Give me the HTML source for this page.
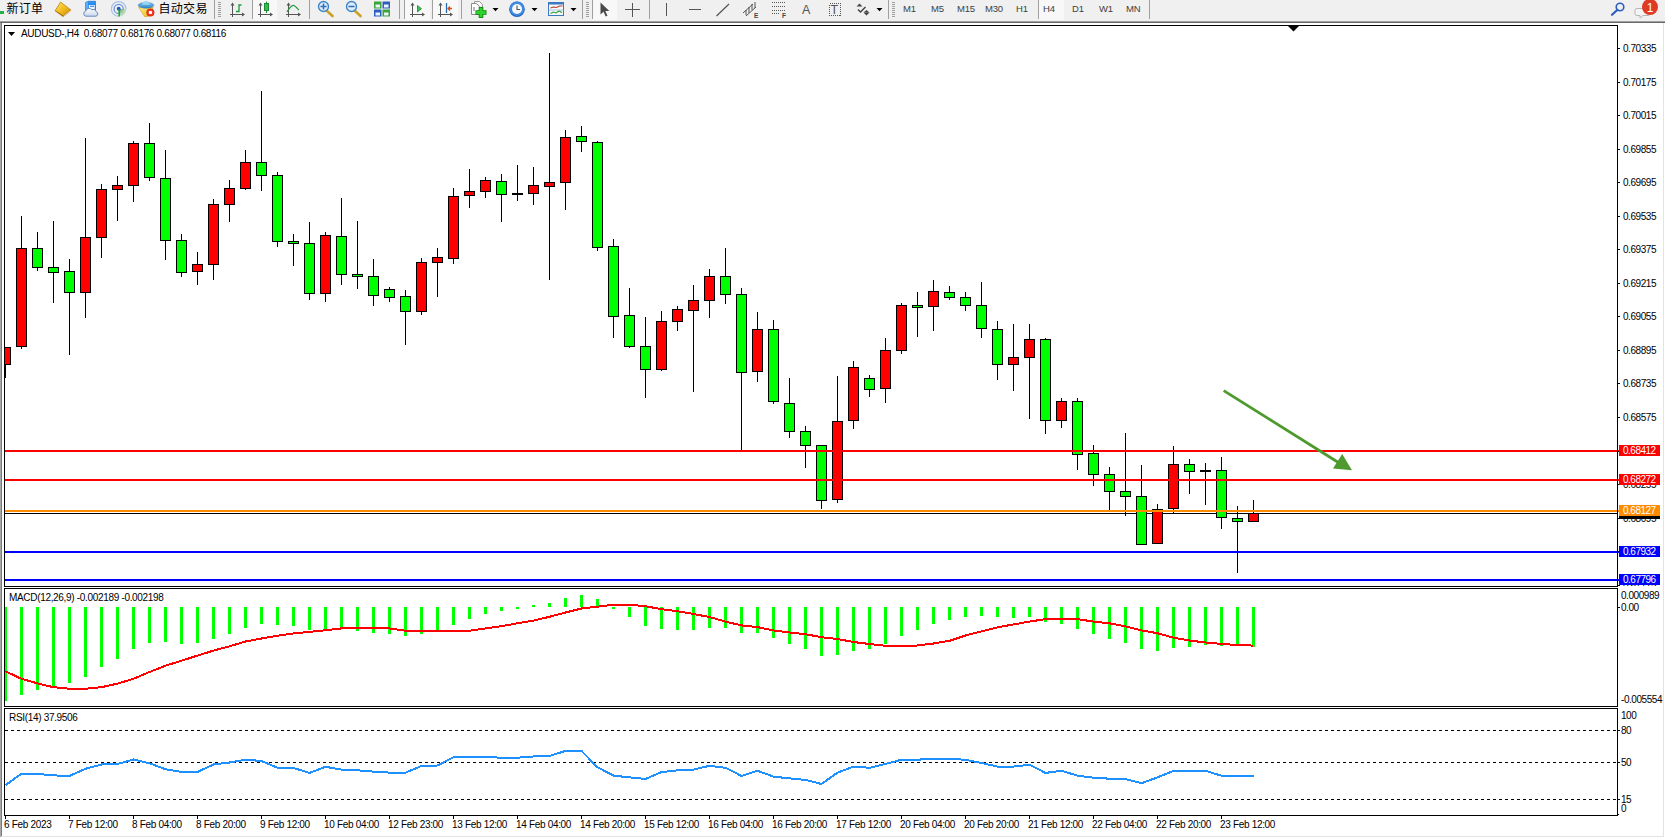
<!DOCTYPE html>
<html><head><meta charset="utf-8"><title>AUDUSD-,H4</title>
<style>
html,body{margin:0;padding:0}
body{width:1665px;height:838px;overflow:hidden;background:#fff;position:relative;font-family:"Liberation Sans","Noto Sans CJK SC",sans-serif;color:#000}
#tb{position:absolute;left:0;top:0;width:1665px;height:21px;background:#f0f0f0;overflow:hidden}
svg.ch{position:absolute;left:0;top:0}
.t{position:absolute;font-size:10px;line-height:13px;white-space:pre;letter-spacing:-0.32px}
.n{letter-spacing:-0.45px}
.bx{position:absolute;left:1619px;width:41px;height:11px;color:#fff;font-size:10px;line-height:11px;white-space:pre;overflow:hidden;letter-spacing:-0.5px}
.bx span{display:inline-block;margin-left:4px}
.tri{display:inline-block;width:0;height:0;border-left:4px solid transparent;border-right:4px solid transparent;border-top:4px solid #000;margin:0 5px 1px 1px}
#tb .x{position:absolute;white-space:pre}
#tb .cj{top:1px;font-size:12px;line-height:16px;color:#000;letter-spacing:0.3px}
#tb .pd{top:2px;font-size:9.5px;line-height:13px;color:#404040;letter-spacing:-0.2px}
#tb .hl{position:absolute;top:0;height:20px;background:#f8f8f8}

</style></head><body>
<div id="tb"><div class="hl" style="left:253px;width:24px"></div>
<div class="hl" style="left:405px;width:25px"></div>
<div class="hl" style="left:433px;width:25px"></div>
<div class="hl" style="left:593px;width:24px"></div>
<div class="hl" style="left:1039px;width:25px"></div>
<svg width="1665" height="21" viewBox="0 0 1665 21" style="position:absolute;left:0;top:0">
<g fill="none" stroke="#a0a0a0" stroke-width="1" shape-rendering="crispEdges">
<path d="M214.5 0V19M252.5 0V19M309.5 0V19M399.5 0V19M404.5 0V19M432.5 0V19M461.5 0V19M582.5 0V19M592.5 0V19M649.5 0V19M888.5 0V19M1038.5 0V19M1149.5 0V19"/>
<path d="M218 2.5h3M218 4.5h3M218 6.5h3M218 8.5h3M218 10.5h3M218 12.5h3M218 14.5h3M218 16.5h3"/>
<path d="M586 2.5h3M586 4.5h3M586 6.5h3M586 8.5h3M586 10.5h3M586 12.5h3M586 14.5h3M586 16.5h3"/>
<path d="M892 2.5h3M892 4.5h3M892 6.5h3M892 8.5h3M892 10.5h3M892 12.5h3M892 14.5h3M892 16.5h3"/>
</g>
<!-- new order remnant -->
<rect x="0" y="11" width="4" height="3" fill="#22b14c"/>
<!-- book -->
<defs>
<linearGradient id="gb" x1="0" y1="0" x2="1" y2="1"><stop offset="0" stop-color="#ffe36a"/><stop offset=".5" stop-color="#f2bd1d"/><stop offset="1" stop-color="#c98a10"/></linearGradient>
<linearGradient id="gs" x1="0" y1="0" x2="0" y2="1"><stop offset="0" stop-color="#2f9bff"/><stop offset="1" stop-color="#1763c9"/></linearGradient>
<linearGradient id="gc" x1="0" y1="0" x2="0" y2="1"><stop offset="0" stop-color="#ffffff"/><stop offset="1" stop-color="#c9d6ea"/></linearGradient>
<radialGradient id="gg" gradientUnits="userSpaceOnUse" cx="118.700" cy="8.900" r="8"><stop offset="0" stop-color="#2d8f3a" stop-opacity=".9"/><stop offset="1" stop-color="#8fce96" stop-opacity=".35"/></radialGradient>
<linearGradient id="gh" x1="0" y1="0" x2="0" y2="1"><stop offset="0" stop-color="#7cc3ee"/><stop offset="1" stop-color="#2f86c9"/></linearGradient>
<linearGradient id="gy" x1="0" y1="0" x2="1" y2="1"><stop offset="0" stop-color="#fff08a"/><stop offset="1" stop-color="#e7b416"/></linearGradient>
</defs>
<path d="M55.200 11.200L63.200 17L71 10.800L70.800 9.500L63 15L55.500 10z" fill="#9c6408"/>
<path d="M60.600 2L70.800 9.900L63.200 15.800L55.200 10.600z" fill="url(#gb)" stroke="#b47a0c" stroke-width=".7"/>
<path d="M63.400 16.300L70.900 10.400" stroke="#f7e7b0" stroke-width=".8"/>
<!-- server/cloud -->
<path d="M85.500 2.500l2.500-1.200h7.500v9h-10z" fill="url(#gs)" stroke="#1a5bb8" stroke-width=".6"/>
<path d="M85.500 2.500l2.500-1.200v9.500l-2.500 .5z" fill="#55b0ff"/>
<rect x="88.800" y="5" width="6" height="4.500" fill="#e9f2ff"/>
<rect x="90" y="5.800" width="4" height="1" fill="#2a7be0"/>
<path d="M86 16.200a2.600 2.600 0 0 1-.3-5.100a3.400 3.400 0 0 1 6.200-1.200a2.800 2.800 0 0 1 4.200 1.800a2.300 2.300 0 0 1-.3 4.500z" fill="url(#gc)" stroke="#5d7fb8" stroke-width=".9"/>
<!-- signal -->
<path d="M118.700 8.900V16.800A7.900 7.900 0 0 0 126.600 8.900z" fill="url(#gg)"/>
<circle cx="118.700" cy="8.900" r="7.300" fill="none" stroke="#a9c0ea" stroke-width="1.200" stroke-dasharray="34.400 11.500" transform="rotate(90 118.700 8.900)"/>
<circle cx="118.700" cy="8.900" r="4.600" fill="none" stroke="#6d93de" stroke-width="1.300" stroke-dasharray="21.700 7.200" transform="rotate(90 118.700 8.900)"/>
<circle cx="118.700" cy="8.700" r="1.900" fill="#1f55c4"/>
<path d="M119.200 9.500V16.600" stroke="#21a038" stroke-width="1.500"/>
<!-- autotrading -->
<path d="M138.600 7.200h14.600l-5.200 9.300h-3.500z" fill="url(#gy)" stroke="#d1a017" stroke-width=".6"/>
<ellipse cx="146" cy="5.300" rx="7.800" ry="2.900" fill="url(#gh)" stroke="#2c78b8" stroke-width=".5"/>
<path d="M142.300 4.800a3.700 3.900 0 0 1 7.400 0z" fill="#9bd3f5"/>
<circle cx="150.400" cy="12.500" r="4" fill="#d8220f"/>
<circle cx="150.400" cy="12.500" r="3.300" fill="#ef3b22"/>
<rect x="148.900" y="11" width="3" height="3" fill="#fff"/>
<!-- bar chart icon -->
<g stroke="#555" stroke-width="1" fill="none" shape-rendering="crispEdges">
<path d="M232.500 4V17M230 14.500H244M260.500 4V17M258 14.500H272M288.500 4V17M286 14.500H300M412.500 4V17M410 14.500H424M440.500 4V17M438 14.500H452"/>
</g>
<g fill="#555">
<path d="M232.500 2.500l-2 3h4zM260.500 2.500l-2 3h4zM288.500 2.500l-2 3h4zM412.500 2.500l-2 3h4zM440.500 2.500l-2 3h4z"/>
<path d="M245 14.500l-3-2v4zM273 14.500l-3-2v4zM301 14.500l-3-2v4zM425 14.500l-3-2v4zM453 14.500l-3-2v4z"/>
</g>
<path d="M236 11.500h3V5h2.500" fill="none" stroke="#1d9a3c" stroke-width="1.300"/>
<rect x="264.500" y="3.500" width="4" height="7" fill="#2fbf4f" stroke="#1d8a36"/>
<path d="M266.500 1.500V3.500M266.500 10.500V13" stroke="#1d8a36" stroke-width="1"/>
<path d="M287 12c3-5 5-7.500 7-6.500s3 3 5 4.500" fill="none" stroke="#1d9a3c" stroke-width="1.300"/>
<path d="M417.500 5.500l4 3.200l-4 3.300z" fill="#3cc25a" stroke="#1d8a36" stroke-width=".8"/>
<path d="M446.500 3V13" stroke="#2a6fb5" stroke-width="1.300"/>
<path d="M452 8.500H448M450 6.500l-2 2l2 2" fill="none" stroke="#d2501e" stroke-width="1.300"/>
<!-- zoom in/out -->
<g>
<path d="M326.500 10.500l6 5.500" stroke="#c9a227" stroke-width="2.600" stroke-linecap="round"/>
<circle cx="323.500" cy="6.500" r="5" fill="#dcebfa" stroke="#3d85c6" stroke-width="1.400"/>
<path d="M320.500 6.500h6M323.500 3.500v6" stroke="#2f6fb3" stroke-width="1.500"/>
<path d="M354.500 10.500l6 5.500" stroke="#c9a227" stroke-width="2.600" stroke-linecap="round"/>
<circle cx="351.500" cy="6.500" r="5" fill="#dcebfa" stroke="#3d85c6" stroke-width="1.400"/>
<path d="M348.500 6.500h6" stroke="#2f6fb3" stroke-width="1.500"/>
</g>
<!-- grid windows -->
<rect x="374" y="1.500" width="7.500" height="7" fill="#3aa63a"/><rect x="382.500" y="1.500" width="7.500" height="7" fill="#2c5fc0"/>
<rect x="374" y="9.500" width="7.500" height="7" fill="#2c5fc0"/><rect x="382.500" y="9.500" width="7.500" height="7" fill="#3aa63a"/>
<g fill="#eef3fb"><rect x="375.500" y="4.500" width="4.500" height="3"/><rect x="384" y="4.500" width="4.500" height="3"/><rect x="375.500" y="12.500" width="4.500" height="3"/><rect x="384" y="12.500" width="4.500" height="3"/></g>
<!-- new indicator -->
<path d="M474.500 1.500h5l3 3v9h-8z" fill="#fafafa" stroke="#9a9a9a" stroke-width="1"/>
<path d="M471.500 3.500h5l3 3v8h-8z" fill="#fdfdfd" stroke="#8c8c8c" stroke-width="1"/>
<path d="M474 7v4" stroke="#777" stroke-width="1"/>
<path d="M481 7v11M475.500 12.500h11" stroke="#0b7d0b" stroke-width="4.600"/>
<path d="M481 7.800v9.400M476.300 12.500h9.400" stroke="#2bd32b" stroke-width="3"/>
<!-- clock -->
<circle cx="517" cy="9.300" r="7.800" fill="#1d5fbf"/>
<circle cx="517" cy="8.700" r="7.300" fill="#3f8ae0"/>
<circle cx="517" cy="9" r="5" fill="#f4f7fb"/>
<path d="M517 5.500V9.500H520" fill="none" stroke="#555" stroke-width="1.100"/>
<!-- template -->
<rect x="548.500" y="2.500" width="15" height="13" fill="#f5f8fc" stroke="#3b78c4" stroke-width="1"/>
<rect x="548" y="2" width="16" height="2.500" fill="#3b78c4"/>
<path d="M550.500 8l3-1l3 .5l3-1.500l3 0" fill="none" stroke="#c0392b" stroke-width="1.100"/>
<path d="M550.500 13.500l3-1.500l2.500 1l3-2l3 1.500" fill="none" stroke="#27a127" stroke-width="1.100"/>
<path d="M549 10h14" stroke="#9bb8dd" stroke-width=".8"/>
<!-- dropdown arrows -->
<g fill="#000"><path d="M492.500 8h6l-3 3.200zM531.500 8h6l-3 3.200zM570.500 8h6l-3 3.200zM876.500 8h6l-3 3.200z"/></g>
<!-- cursor -->
<path d="M600.500 2.500v12l3-2.800l2.200 4.800l1.800-.8l-2.200-4.700h4z" fill="#4a4a4a"/>
<!-- crosshair -->
<path d="M632.500 2.500v14M625 9.500h15" stroke="#555" stroke-width="1" shape-rendering="crispEdges"/>
<!-- vline hline trend -->
<path d="M666.500 3v13M689 9.500h12" stroke="#555" stroke-width="1.200" shape-rendering="crispEdges"/>
<path d="M716.500 16L729 4" stroke="#555" stroke-width="1.200"/>
<!-- channel -->
<path d="M743 13l10-9M746 16l10-9M746 10v5M749 7v6M752 4v6M755 2v6" stroke="#555" stroke-width="1" fill="none"/>
<!-- fibo -->
<path d="M772 2.500h13M772 6.500h13M772 10.500h13M772 13.500h8" stroke="#555" stroke-width="1" stroke-dasharray="1 1" shape-rendering="crispEdges"/>
<!-- T box -->
<rect x="829.500" y="3.500" width="11" height="12" fill="none" stroke="#555" stroke-width="1" stroke-dasharray="1 1" shape-rendering="crispEdges"/>
<!-- arrows icon -->
<path d="M859.500 3.500l3 3h-6zM866.500 15.500l-3-3h6z" fill="#444"/>
<path d="M858 9.500l2.500 2.500l5-5" fill="none" stroke="#444" stroke-width="1.500"/>
<path d="M866.500 10l3 2.500h-6z" fill="#444"/>
<!-- search -->
<circle cx="1620" cy="7" r="3.800" fill="none" stroke="#2a5fbf" stroke-width="1.600"/>
<path d="M1617.500 9.800l-5.500 5" stroke="#2a5fbf" stroke-width="2.200" stroke-linecap="round"/>
<!-- chat -->
<path d="M1637 8.500h11a2 2 0 0 1 2 2v3a2 2 0 0 1-2 2h-5l-3 2.500v-2.500h-3a2 2 0 0 1-2-2v-3a2 2 0 0 1 2-2z" fill="#f4f4f4" stroke="#b5b5b5" stroke-width="1"/>
<circle cx="1650" cy="7" r="8" fill="#e03a24"/>
<text x="1650" y="11.500" text-anchor="middle" font-family="Liberation Sans, sans-serif" font-size="12" fill="#fff">1</text>
<text x="1306" y="17.600" font-family="Liberation Sans, sans-serif" font-size="6.500" font-weight="bold" fill="#444" transform="translate(-552 0)">E</text>
<text x="1334" y="17.600" font-family="Liberation Sans, sans-serif" font-size="6.500" font-weight="bold" fill="#444" transform="translate(-552 0)">F</text>
<text x="802" y="14" font-family="Liberation Sans, sans-serif" font-size="12.500" fill="#555">A</text>
<text x="830.500" y="14" font-family="Liberation Sans, sans-serif" font-size="12.500" fill="#555">T</text>
</svg>
<span class="x cj" style="left:6.500px">新订单</span>
<span class="x cj" style="left:158.500px">自动交易</span>
<span class="x pd" style="left:903px">M1</span>
<span class="x pd" style="left:931px">M5</span>
<span class="x pd" style="left:957px">M15</span>
<span class="x pd" style="left:985px">M30</span>
<span class="x pd" style="left:1016px">H1</span>
<span class="x pd" style="left:1043px">H4</span>
<span class="x pd" style="left:1072px">D1</span>
<span class="x pd" style="left:1099px">W1</span>
<span class="x pd" style="left:1126px">MN</span>
</div>
<svg class="ch" width="1665" height="838" viewBox="0 0 1665 838" shape-rendering="crispEdges">
<rect x="0" y="21" width="1665" height="1" fill="#a0a0a0"/>
<rect x="0" y="22" width="1665" height="1" fill="#696969"/>
<rect x="0" y="23" width="1" height="814" fill="#a8a8a8"/>
<rect x="1" y="23" width="1" height="813" fill="#7a7a7a"/>
<rect x="1663" y="23" width="1" height="814" fill="#e3e3e3"/>
<rect x="1" y="836" width="1663" height="1" fill="#e3e3e3"/>
<defs><clipPath id="cp"><rect x="5" y="26" width="1612" height="789"/></clipPath></defs>
<g clip-path="url(#cp)"><rect x="5" y="513" width="1612" height="1" fill="#000"/><rect x="5" y="347" width="1" height="31" fill="#000"/><rect x="0.5" y="347.5" width="10" height="17" fill="#f00" stroke="#000" stroke-width="1"/><rect x="21" y="216" width="1" height="133" fill="#000"/><rect x="16.5" y="248.5" width="10" height="98" fill="#f00" stroke="#000" stroke-width="1"/><rect x="37" y="232" width="1" height="39" fill="#000"/><rect x="32.5" y="248.5" width="10" height="19" fill="#0f0" stroke="#000" stroke-width="1"/><rect x="53" y="221" width="1" height="82" fill="#000"/><rect x="48.5" y="267.5" width="10" height="5" fill="#0f0" stroke="#000" stroke-width="1"/><rect x="69" y="259" width="1" height="96" fill="#000"/><rect x="64.5" y="271.5" width="10" height="21" fill="#0f0" stroke="#000" stroke-width="1"/><rect x="85" y="138" width="1" height="180" fill="#000"/><rect x="80.5" y="237.5" width="10" height="55" fill="#f00" stroke="#000" stroke-width="1"/><rect x="101" y="184" width="1" height="74" fill="#000"/><rect x="96.5" y="189.5" width="10" height="48" fill="#f00" stroke="#000" stroke-width="1"/><rect x="117" y="176" width="1" height="45" fill="#000"/><rect x="112.5" y="185.5" width="10" height="4" fill="#f00" stroke="#000" stroke-width="1"/><rect x="133" y="141" width="1" height="61" fill="#000"/><rect x="128.5" y="143.5" width="10" height="42" fill="#f00" stroke="#000" stroke-width="1"/><rect x="149" y="123" width="1" height="58" fill="#000"/><rect x="144.5" y="143.5" width="10" height="34" fill="#0f0" stroke="#000" stroke-width="1"/><rect x="165" y="150" width="1" height="110" fill="#000"/><rect x="160.5" y="178.5" width="10" height="62" fill="#0f0" stroke="#000" stroke-width="1"/><rect x="181" y="234" width="1" height="43" fill="#000"/><rect x="176.5" y="240.5" width="10" height="32" fill="#0f0" stroke="#000" stroke-width="1"/><rect x="197" y="252" width="1" height="33" fill="#000"/><rect x="192.5" y="264.5" width="10" height="7" fill="#f00" stroke="#000" stroke-width="1"/><rect x="213" y="199" width="1" height="81" fill="#000"/><rect x="208.5" y="204.5" width="10" height="60" fill="#f00" stroke="#000" stroke-width="1"/><rect x="229" y="180" width="1" height="42" fill="#000"/><rect x="224.5" y="188.5" width="10" height="16" fill="#f00" stroke="#000" stroke-width="1"/><rect x="245" y="150" width="1" height="40" fill="#000"/><rect x="240.5" y="162.5" width="10" height="26" fill="#f00" stroke="#000" stroke-width="1"/><rect x="261" y="91" width="1" height="100" fill="#000"/><rect x="256.5" y="162.5" width="10" height="13" fill="#0f0" stroke="#000" stroke-width="1"/><rect x="277" y="172" width="1" height="75" fill="#000"/><rect x="272.5" y="175.5" width="10" height="66" fill="#0f0" stroke="#000" stroke-width="1"/><rect x="293" y="234" width="1" height="32" fill="#000"/><rect x="288.5" y="241.5" width="10" height="2" fill="#0f0" stroke="#000" stroke-width="1"/><rect x="309" y="222" width="1" height="78" fill="#000"/><rect x="304.5" y="243.5" width="10" height="50" fill="#0f0" stroke="#000" stroke-width="1"/><rect x="325" y="232" width="1" height="70" fill="#000"/><rect x="320.5" y="235.5" width="10" height="58" fill="#f00" stroke="#000" stroke-width="1"/><rect x="341" y="198" width="1" height="87" fill="#000"/><rect x="336.5" y="236.5" width="10" height="38" fill="#0f0" stroke="#000" stroke-width="1"/><rect x="357" y="221" width="1" height="68" fill="#000"/><rect x="352.5" y="274.5" width="10" height="2" fill="#0f0" stroke="#000" stroke-width="1"/><rect x="373" y="259" width="1" height="47" fill="#000"/><rect x="368.5" y="276.5" width="10" height="19" fill="#0f0" stroke="#000" stroke-width="1"/><rect x="389" y="287" width="1" height="15" fill="#000"/><rect x="384.5" y="289.5" width="10" height="8" fill="#0f0" stroke="#000" stroke-width="1"/><rect x="405" y="290" width="1" height="55" fill="#000"/><rect x="400.5" y="296.5" width="10" height="15" fill="#0f0" stroke="#000" stroke-width="1"/><rect x="421" y="258" width="1" height="57" fill="#000"/><rect x="416.5" y="262.5" width="10" height="49" fill="#f00" stroke="#000" stroke-width="1"/><rect x="437" y="248" width="1" height="49" fill="#000"/><rect x="432.5" y="257.5" width="10" height="5" fill="#f00" stroke="#000" stroke-width="1"/><rect x="453" y="188" width="1" height="76" fill="#000"/><rect x="448.5" y="196.5" width="10" height="62" fill="#f00" stroke="#000" stroke-width="1"/><rect x="469" y="169" width="1" height="39" fill="#000"/><rect x="464.5" y="191.5" width="10" height="4" fill="#f00" stroke="#000" stroke-width="1"/><rect x="485" y="177" width="1" height="21" fill="#000"/><rect x="480.5" y="180.5" width="10" height="11" fill="#f00" stroke="#000" stroke-width="1"/><rect x="501" y="174" width="1" height="48" fill="#000"/><rect x="496.5" y="181.5" width="10" height="13" fill="#0f0" stroke="#000" stroke-width="1"/><rect x="517" y="165" width="1" height="36" fill="#000"/><rect x="512" y="193" width="11" height="2" fill="#000"/><rect x="533" y="167" width="1" height="38" fill="#000"/><rect x="528.5" y="185.5" width="10" height="8" fill="#f00" stroke="#000" stroke-width="1"/><rect x="549" y="53" width="1" height="227" fill="#000"/><rect x="544.5" y="182.5" width="10" height="4" fill="#f00" stroke="#000" stroke-width="1"/><rect x="565" y="130" width="1" height="80" fill="#000"/><rect x="560.5" y="137.5" width="10" height="45" fill="#f00" stroke="#000" stroke-width="1"/><rect x="581" y="126" width="1" height="26" fill="#000"/><rect x="576.5" y="136.5" width="10" height="5" fill="#0f0" stroke="#000" stroke-width="1"/><rect x="597" y="141" width="1" height="110" fill="#000"/><rect x="592.5" y="142.5" width="10" height="105" fill="#0f0" stroke="#000" stroke-width="1"/><rect x="613" y="239" width="1" height="99" fill="#000"/><rect x="608.5" y="246.5" width="10" height="70" fill="#0f0" stroke="#000" stroke-width="1"/><rect x="629" y="288" width="1" height="60" fill="#000"/><rect x="624.5" y="315.5" width="10" height="31" fill="#0f0" stroke="#000" stroke-width="1"/><rect x="645" y="317" width="1" height="81" fill="#000"/><rect x="640.5" y="346.5" width="10" height="23" fill="#0f0" stroke="#000" stroke-width="1"/><rect x="661" y="311" width="1" height="60" fill="#000"/><rect x="656.5" y="321.5" width="10" height="48" fill="#f00" stroke="#000" stroke-width="1"/><rect x="677" y="306" width="1" height="25" fill="#000"/><rect x="672.5" y="309.5" width="10" height="12" fill="#f00" stroke="#000" stroke-width="1"/><rect x="693" y="285" width="1" height="107" fill="#000"/><rect x="688.5" y="300.5" width="10" height="10" fill="#f00" stroke="#000" stroke-width="1"/><rect x="709" y="269" width="1" height="49" fill="#000"/><rect x="704.5" y="276.5" width="10" height="24" fill="#f00" stroke="#000" stroke-width="1"/><rect x="725" y="248" width="1" height="56" fill="#000"/><rect x="720.5" y="276.5" width="10" height="18" fill="#0f0" stroke="#000" stroke-width="1"/><rect x="741" y="288" width="1" height="162" fill="#000"/><rect x="736.5" y="294.5" width="10" height="78" fill="#0f0" stroke="#000" stroke-width="1"/><rect x="757" y="312" width="1" height="70" fill="#000"/><rect x="752.5" y="329.5" width="10" height="42" fill="#f00" stroke="#000" stroke-width="1"/><rect x="773" y="320" width="1" height="84" fill="#000"/><rect x="768.5" y="329.5" width="10" height="72" fill="#0f0" stroke="#000" stroke-width="1"/><rect x="789" y="378" width="1" height="60" fill="#000"/><rect x="784.5" y="403.5" width="10" height="28" fill="#0f0" stroke="#000" stroke-width="1"/><rect x="805" y="426" width="1" height="42" fill="#000"/><rect x="800.5" y="431.5" width="10" height="14" fill="#0f0" stroke="#000" stroke-width="1"/><rect x="821" y="445" width="1" height="64" fill="#000"/><rect x="816.5" y="445.5" width="10" height="55" fill="#0f0" stroke="#000" stroke-width="1"/><rect x="837" y="376" width="1" height="127" fill="#000"/><rect x="832.5" y="421.5" width="10" height="78" fill="#f00" stroke="#000" stroke-width="1"/><rect x="853" y="361" width="1" height="68" fill="#000"/><rect x="848.5" y="367.5" width="10" height="53" fill="#f00" stroke="#000" stroke-width="1"/><rect x="869" y="375" width="1" height="22" fill="#000"/><rect x="864.5" y="378.5" width="10" height="11" fill="#0f0" stroke="#000" stroke-width="1"/><rect x="885" y="338" width="1" height="65" fill="#000"/><rect x="880.5" y="350.5" width="10" height="38" fill="#f00" stroke="#000" stroke-width="1"/><rect x="901" y="303" width="1" height="51" fill="#000"/><rect x="896.5" y="305.5" width="10" height="45" fill="#f00" stroke="#000" stroke-width="1"/><rect x="917" y="292" width="1" height="45" fill="#000"/><rect x="912.5" y="305.5" width="10" height="2" fill="#0f0" stroke="#000" stroke-width="1"/><rect x="933" y="280" width="1" height="51" fill="#000"/><rect x="928.5" y="291.5" width="10" height="15" fill="#f00" stroke="#000" stroke-width="1"/><rect x="949" y="286" width="1" height="14" fill="#000"/><rect x="944.5" y="292.5" width="10" height="5" fill="#0f0" stroke="#000" stroke-width="1"/><rect x="965" y="292" width="1" height="19" fill="#000"/><rect x="960.5" y="297.5" width="10" height="8" fill="#0f0" stroke="#000" stroke-width="1"/><rect x="981" y="282" width="1" height="56" fill="#000"/><rect x="976.5" y="305.5" width="10" height="23" fill="#0f0" stroke="#000" stroke-width="1"/><rect x="997" y="321" width="1" height="59" fill="#000"/><rect x="992.5" y="329.5" width="10" height="35" fill="#0f0" stroke="#000" stroke-width="1"/><rect x="1013" y="324" width="1" height="67" fill="#000"/><rect x="1008.5" y="357.5" width="10" height="7" fill="#f00" stroke="#000" stroke-width="1"/><rect x="1029" y="324" width="1" height="95" fill="#000"/><rect x="1024.5" y="339.5" width="10" height="18" fill="#f00" stroke="#000" stroke-width="1"/><rect x="1045" y="338" width="1" height="96" fill="#000"/><rect x="1040.5" y="339.5" width="10" height="81" fill="#0f0" stroke="#000" stroke-width="1"/><rect x="1061" y="398" width="1" height="30" fill="#000"/><rect x="1056.5" y="401.5" width="10" height="19" fill="#f00" stroke="#000" stroke-width="1"/><rect x="1077" y="398" width="1" height="72" fill="#000"/><rect x="1072.5" y="401.5" width="10" height="53" fill="#0f0" stroke="#000" stroke-width="1"/><rect x="1093" y="445" width="1" height="41" fill="#000"/><rect x="1088.5" y="453.5" width="10" height="21" fill="#0f0" stroke="#000" stroke-width="1"/><rect x="1109" y="467" width="1" height="44" fill="#000"/><rect x="1104.5" y="474.5" width="10" height="17" fill="#0f0" stroke="#000" stroke-width="1"/><rect x="1125" y="433" width="1" height="83" fill="#000"/><rect x="1120.5" y="491.5" width="10" height="5" fill="#0f0" stroke="#000" stroke-width="1"/><rect x="1141" y="465" width="1" height="80" fill="#000"/><rect x="1136.5" y="496.5" width="10" height="48" fill="#0f0" stroke="#000" stroke-width="1"/><rect x="1157" y="504" width="1" height="40" fill="#000"/><rect x="1152.5" y="509.5" width="10" height="34" fill="#f00" stroke="#000" stroke-width="1"/><rect x="1173" y="446" width="1" height="68" fill="#000"/><rect x="1168.5" y="464.5" width="10" height="44" fill="#f00" stroke="#000" stroke-width="1"/><rect x="1189" y="459" width="1" height="35" fill="#000"/><rect x="1184.5" y="464.5" width="10" height="7" fill="#0f0" stroke="#000" stroke-width="1"/><rect x="1205" y="463" width="1" height="42" fill="#000"/><rect x="1200" y="470" width="11" height="2" fill="#000"/><rect x="1221" y="457" width="1" height="72" fill="#000"/><rect x="1216.5" y="470.5" width="10" height="47" fill="#0f0" stroke="#000" stroke-width="1"/><rect x="1237" y="506" width="1" height="67" fill="#000"/><rect x="1232.5" y="518.5" width="10" height="3" fill="#0f0" stroke="#000" stroke-width="1"/><rect x="1253" y="500" width="1" height="22" fill="#000"/><rect x="1248.5" y="513.5" width="10" height="8" fill="#f00" stroke="#000" stroke-width="1"/><rect x="4" y="607" width="3" height="94" fill="#0f0"/><rect x="20" y="607" width="3" height="88" fill="#0f0"/><rect x="36" y="607" width="3" height="83" fill="#0f0"/><rect x="52" y="607" width="3" height="81" fill="#0f0"/><rect x="68" y="607" width="3" height="76" fill="#0f0"/><rect x="84" y="607" width="3" height="70" fill="#0f0"/><rect x="100" y="607" width="3" height="60" fill="#0f0"/><rect x="116" y="607" width="3" height="52" fill="#0f0"/><rect x="132" y="607" width="3" height="42" fill="#0f0"/><rect x="148" y="607" width="3" height="36" fill="#0f0"/><rect x="164" y="607" width="3" height="35" fill="#0f0"/><rect x="180" y="607" width="3" height="37" fill="#0f0"/><rect x="196" y="607" width="3" height="36" fill="#0f0"/><rect x="212" y="607" width="3" height="32" fill="#0f0"/><rect x="228" y="607" width="3" height="27" fill="#0f0"/><rect x="244" y="607" width="3" height="21" fill="#0f0"/><rect x="260" y="607" width="3" height="17" fill="#0f0"/><rect x="276" y="607" width="3" height="18" fill="#0f0"/><rect x="292" y="607" width="3" height="19" fill="#0f0"/><rect x="308" y="607" width="3" height="23" fill="#0f0"/><rect x="324" y="607" width="3" height="23" fill="#0f0"/><rect x="340" y="607" width="3" height="22" fill="#0f0"/><rect x="356" y="607" width="3" height="24" fill="#0f0"/><rect x="372" y="607" width="3" height="26" fill="#0f0"/><rect x="388" y="607" width="3" height="27" fill="#0f0"/><rect x="404" y="607" width="3" height="29" fill="#0f0"/><rect x="420" y="607" width="3" height="27" fill="#0f0"/><rect x="436" y="607" width="3" height="24" fill="#0f0"/><rect x="452" y="607" width="3" height="18" fill="#0f0"/><rect x="468" y="607" width="3" height="12" fill="#0f0"/><rect x="484" y="607" width="3" height="7" fill="#0f0"/><rect x="500" y="607" width="3" height="4" fill="#0f0"/><rect x="516" y="607" width="3" height="2" fill="#0f0"/><rect x="532" y="605" width="3" height="2" fill="#0f0"/><rect x="548" y="603" width="3" height="4" fill="#0f0"/><rect x="564" y="598" width="3" height="9" fill="#0f0"/><rect x="580" y="595" width="3" height="12" fill="#0f0"/><rect x="596" y="599" width="3" height="8" fill="#0f0"/><rect x="612" y="607" width="3" height="2" fill="#0f0"/><rect x="628" y="607" width="3" height="10" fill="#0f0"/><rect x="644" y="607" width="3" height="19" fill="#0f0"/><rect x="660" y="607" width="3" height="22" fill="#0f0"/><rect x="676" y="607" width="3" height="23" fill="#0f0"/><rect x="692" y="607" width="3" height="23" fill="#0f0"/><rect x="708" y="607" width="3" height="21" fill="#0f0"/><rect x="724" y="607" width="3" height="21" fill="#0f0"/><rect x="740" y="607" width="3" height="26" fill="#0f0"/><rect x="756" y="607" width="3" height="26" fill="#0f0"/><rect x="772" y="607" width="3" height="31" fill="#0f0"/><rect x="788" y="607" width="3" height="37" fill="#0f0"/><rect x="804" y="607" width="3" height="42" fill="#0f0"/><rect x="820" y="607" width="3" height="49" fill="#0f0"/><rect x="836" y="607" width="3" height="48" fill="#0f0"/><rect x="852" y="607" width="3" height="44" fill="#0f0"/><rect x="868" y="607" width="3" height="42" fill="#0f0"/><rect x="884" y="607" width="3" height="37" fill="#0f0"/><rect x="900" y="607" width="3" height="29" fill="#0f0"/><rect x="916" y="607" width="3" height="23" fill="#0f0"/><rect x="932" y="607" width="3" height="17" fill="#0f0"/><rect x="948" y="607" width="3" height="13" fill="#0f0"/><rect x="964" y="607" width="3" height="10" fill="#0f0"/><rect x="980" y="607" width="3" height="9" fill="#0f0"/><rect x="996" y="607" width="3" height="10" fill="#0f0"/><rect x="1012" y="607" width="3" height="11" fill="#0f0"/><rect x="1028" y="607" width="3" height="10" fill="#0f0"/><rect x="1044" y="607" width="3" height="15" fill="#0f0"/><rect x="1060" y="607" width="3" height="17" fill="#0f0"/><rect x="1076" y="607" width="3" height="22" fill="#0f0"/><rect x="1092" y="607" width="3" height="27" fill="#0f0"/><rect x="1108" y="607" width="3" height="32" fill="#0f0"/><rect x="1124" y="607" width="3" height="36" fill="#0f0"/><rect x="1140" y="607" width="3" height="42" fill="#0f0"/><rect x="1156" y="607" width="3" height="44" fill="#0f0"/><rect x="1172" y="607" width="3" height="41" fill="#0f0"/><rect x="1188" y="607" width="3" height="40" fill="#0f0"/><rect x="1204" y="607" width="3" height="38" fill="#0f0"/><rect x="1220" y="607" width="3" height="39" fill="#0f0"/><rect x="1236" y="607" width="3" height="39" fill="#0f0"/><rect x="1252" y="607" width="3" height="40" fill="#0f0"/><polyline points="5.5,671.3 21.5,678.8 37.5,683.4 53.5,687.2 69.5,688.7 85.5,688.7 101.5,687.2 117.5,683.6 133.5,678.8 149.5,672.0 165.5,665.7 181.5,660.7 197.5,655.6 213.5,650.6 229.5,646.3 245.5,641.5 261.5,638.5 277.5,635.7 293.5,633.4 309.5,631.9 325.5,630.2 341.5,628.4 357.5,628.1 373.5,628.1 389.5,628.4 405.5,630.7 421.5,631.2 437.5,631.2 453.5,631.2 469.5,630.7 485.5,628.4 501.5,626.1 517.5,623.3 533.5,620.6 549.5,616.8 565.5,612.5 581.5,608.5 597.5,606.7 613.5,604.7 629.5,604.7 645.5,606.2 661.5,609.2 677.5,611.2 693.5,614.0 709.5,617.0 725.5,621.6 741.5,625.4 757.5,627.1 773.5,630.4 789.5,632.4 805.5,634.2 821.5,637.2 837.5,639.0 853.5,642.0 869.5,644.0 885.5,645.8 901.5,645.8 917.5,645.5 933.5,643.5 949.5,640.8 965.5,635.5 981.5,631.4 997.5,627.4 1013.5,624.4 1029.5,621.6 1045.5,619.1 1061.5,618.6 1077.5,619.1 1093.5,621.6 1109.5,623.3 1125.5,626.4 1141.5,630.4 1157.5,633.2 1173.5,637.7 1189.5,640.5 1205.5,642.5 1221.5,643.9 1237.5,645.0 1253.5,645.6" fill="none" stroke="#f00" stroke-width="2"/><line x1="5" x2="1617" y1="730.5" y2="730.5" stroke="#000" stroke-width="1" stroke-dasharray="3 3"/><line x1="5" x2="1617" y1="762.5" y2="762.5" stroke="#000" stroke-width="1" stroke-dasharray="3 3"/><line x1="5" x2="1617" y1="799.5" y2="799.5" stroke="#000" stroke-width="1" stroke-dasharray="3 3"/><polyline points="5.5,785.2 21.5,773.6 37.5,773.9 53.5,775.4 69.5,775.9 85.5,768.8 101.5,764.5 117.5,764.0 133.5,759.5 149.5,763.3 165.5,769.3 181.5,771.9 197.5,771.9 213.5,764.5 229.5,762.5 245.5,759.7 261.5,761.0 277.5,767.8 293.5,768.0 309.5,772.9 325.5,766.8 341.5,769.6 357.5,770.3 373.5,771.6 389.5,772.6 405.5,772.6 421.5,766.0 437.5,765.5 453.5,757.2 469.5,757.0 485.5,757.0 501.5,757.7 517.5,757.7 533.5,756.5 549.5,756.0 565.5,750.9 581.5,750.9 597.5,767.3 613.5,775.6 629.5,777.4 645.5,778.9 661.5,772.1 677.5,770.3 693.5,769.6 709.5,765.8 725.5,767.8 741.5,775.9 757.5,770.8 773.5,776.6 789.5,778.4 805.5,779.9 821.5,784.0 837.5,772.6 853.5,766.6 869.5,767.8 885.5,764.0 901.5,759.7 917.5,759.7 933.5,758.7 949.5,759.0 965.5,759.7 981.5,763.0 997.5,766.6 1013.5,766.6 1029.5,764.8 1045.5,772.9 1061.5,770.8 1077.5,775.6 1093.5,777.7 1109.5,778.7 1125.5,779.2 1141.5,783.2 1157.5,777.4 1173.5,770.8 1189.5,770.8 1205.5,770.8 1221.5,775.7 1237.5,775.7 1253.5,775.7" fill="none" stroke="#1e90ff" stroke-width="2"/></g>
<rect x="5" y="450" width="1615" height="2" fill="#f00"/>
<rect x="5" y="479" width="1615" height="2" fill="#f00"/>
<rect x="5" y="510" width="1615" height="2" fill="#ff8c00"/>
<rect x="5" y="551" width="1615" height="2" fill="#00f"/>
<rect x="5" y="579" width="1615" height="2" fill="#00f"/>
<g shape-rendering="auto"><line x1="1223.7" y1="390.6" x2="1340" y2="463.5" stroke="#4e9a2e" stroke-width="2.8"/><polygon points="1352,470.3 1342.2,453.9 1333,468.4" fill="#4e9a2e"/></g>
<rect x="4" y="25" width="1614" height="1" fill="#000"/>
<rect x="4" y="586" width="1614" height="1" fill="#000"/>
<rect x="4" y="588" width="1614" height="1" fill="#000"/>
<rect x="4" y="706" width="1614" height="1" fill="#000"/>
<rect x="4" y="708" width="1614" height="1" fill="#000"/>
<rect x="4" y="815" width="1614" height="1" fill="#000"/>
<rect x="4" y="25" width="1" height="791" fill="#000"/>
<rect x="1617" y="25" width="1" height="791" fill="#000"/>
<rect x="4" y="587" width="1614" height="1" fill="#fff"/>
<rect x="4" y="707" width="1614" height="1" fill="#fff"/>
<polygon points="1288,26 1299,26 1293.5,31.5" fill="#000" shape-rendering="auto"/>
<rect x="1618" y="48" width="2" height="1" fill="#000"/>
<rect x="1618" y="82" width="2" height="1" fill="#000"/>
<rect x="1618" y="115" width="2" height="1" fill="#000"/>
<rect x="1618" y="149" width="2" height="1" fill="#000"/>
<rect x="1618" y="182" width="2" height="1" fill="#000"/>
<rect x="1618" y="216" width="2" height="1" fill="#000"/>
<rect x="1618" y="249" width="2" height="1" fill="#000"/>
<rect x="1618" y="283" width="2" height="1" fill="#000"/>
<rect x="1618" y="316" width="2" height="1" fill="#000"/>
<rect x="1618" y="350" width="2" height="1" fill="#000"/>
<rect x="1618" y="383" width="2" height="1" fill="#000"/>
<rect x="1618" y="417" width="2" height="1" fill="#000"/>
<rect x="1618" y="451" width="2" height="1" fill="#000"/>
<rect x="1618" y="484" width="2" height="1" fill="#000"/>
<rect x="1618" y="518" width="2" height="1" fill="#000"/>
<rect x="1618" y="551" width="2" height="1" fill="#000"/>
<rect x="1618" y="585" width="2" height="1" fill="#000"/>
<rect x="5" y="816" width="1" height="3" fill="#000"/>
<rect x="69" y="816" width="1" height="3" fill="#000"/>
<rect x="133" y="816" width="1" height="3" fill="#000"/>
<rect x="197" y="816" width="1" height="3" fill="#000"/>
<rect x="261" y="816" width="1" height="3" fill="#000"/>
<rect x="325" y="816" width="1" height="3" fill="#000"/>
<rect x="389" y="816" width="1" height="3" fill="#000"/>
<rect x="453" y="816" width="1" height="3" fill="#000"/>
<rect x="517" y="816" width="1" height="3" fill="#000"/>
<rect x="581" y="816" width="1" height="3" fill="#000"/>
<rect x="645" y="816" width="1" height="3" fill="#000"/>
<rect x="709" y="816" width="1" height="3" fill="#000"/>
<rect x="773" y="816" width="1" height="3" fill="#000"/>
<rect x="837" y="816" width="1" height="3" fill="#000"/>
<rect x="901" y="816" width="1" height="3" fill="#000"/>
<rect x="965" y="816" width="1" height="3" fill="#000"/>
<rect x="1029" y="816" width="1" height="3" fill="#000"/>
<rect x="1093" y="816" width="1" height="3" fill="#000"/>
<rect x="1157" y="816" width="1" height="3" fill="#000"/>
<rect x="1221" y="816" width="1" height="3" fill="#000"/>
<rect x="1618" y="607" width="2" height="1" fill="#000"/>
<rect x="1618" y="730" width="2" height="1" fill="#000"/>
<rect x="1618" y="762" width="2" height="1" fill="#000"/>
<rect x="1618" y="799" width="2" height="1" fill="#000"/>
<rect x="1618" y="814" width="1" height="1" fill="#000"/>
<polygon points="8,32 15,32 11.5,36" fill="#000" shape-rendering="auto"/>
</svg>
<div style="position:absolute;left:0;top:0;width:1665px;height:586px;overflow:hidden"><div class="t n" style="left:1623px;top:42px">0.70335</div>
<div class="t n" style="left:1623px;top:76px">0.70175</div>
<div class="t n" style="left:1623px;top:109px">0.70015</div>
<div class="t n" style="left:1623px;top:143px">0.69855</div>
<div class="t n" style="left:1623px;top:176px">0.69695</div>
<div class="t n" style="left:1623px;top:210px">0.69535</div>
<div class="t n" style="left:1623px;top:243px">0.69375</div>
<div class="t n" style="left:1623px;top:277px">0.69215</div>
<div class="t n" style="left:1623px;top:310px">0.69055</div>
<div class="t n" style="left:1623px;top:344px">0.68895</div>
<div class="t n" style="left:1623px;top:377px">0.68735</div>
<div class="t n" style="left:1623px;top:411px">0.68575</div>
<div class="t n" style="left:1623px;top:445px">0.68415</div>
<div class="t n" style="left:1623px;top:478px">0.68255</div>
<div class="t n" style="left:1623px;top:512px">0.68095</div>
<div class="t n" style="left:1623px;top:545px">0.67935</div>
<div class="t n" style="left:1623px;top:579px">0.67775</div></div>
<div class="t" style="left:4px;top:818px;">6 Feb 2023</div>
<div class="t" style="left:68px;top:818px;">7 Feb 12:00</div>
<div class="t" style="left:132px;top:818px;">8 Feb 04:00</div>
<div class="t" style="left:196px;top:818px;">8 Feb 20:00</div>
<div class="t" style="left:260px;top:818px;">9 Feb 12:00</div>
<div class="t" style="left:324px;top:818px;">10 Feb 04:00</div>
<div class="t" style="left:388px;top:818px;">12 Feb 23:00</div>
<div class="t" style="left:452px;top:818px;">13 Feb 12:00</div>
<div class="t" style="left:516px;top:818px;">14 Feb 04:00</div>
<div class="t" style="left:580px;top:818px;">14 Feb 20:00</div>
<div class="t" style="left:644px;top:818px;">15 Feb 12:00</div>
<div class="t" style="left:708px;top:818px;">16 Feb 04:00</div>
<div class="t" style="left:772px;top:818px;">16 Feb 20:00</div>
<div class="t" style="left:836px;top:818px;">17 Feb 12:00</div>
<div class="t" style="left:900px;top:818px;">20 Feb 04:00</div>
<div class="t" style="left:964px;top:818px;">20 Feb 20:00</div>
<div class="t" style="left:1028px;top:818px;">21 Feb 12:00</div>
<div class="t" style="left:1092px;top:818px;">22 Feb 04:00</div>
<div class="t" style="left:1156px;top:818px;">22 Feb 20:00</div>
<div class="t" style="left:1220px;top:818px;">23 Feb 12:00</div>
<div class="t n" style="left:1621px;top:589px;">0.000989</div>
<div class="t n" style="left:1621px;top:601px;">0.00</div>
<div class="t n" style="left:1621px;top:693px;">-0.005554</div>
<div class="t n" style="left:1621px;top:709px;">100</div>
<div class="t n" style="left:1621px;top:724px;">80</div>
<div class="t n" style="left:1621px;top:756px;">50</div>
<div class="t n" style="left:1621px;top:793px;">15</div>
<div class="t n" style="left:1621px;top:802px;">0</div>
<div class="bx" style="top:507px;background:#000;height:12px"><span>0.68116</span></div>
<div class="bx" style="top:445px;background:#f00"><span>0.68412</span></div>
<div class="bx" style="top:474px;background:#f00"><span>0.68272</span></div>
<div class="bx" style="top:505px;background:#ff8c00"><span>0.68127</span></div>
<div class="bx" style="top:546px;background:#00f"><span>0.67932</span></div>
<div class="bx" style="top:574px;background:#00f"><span>0.67796</span></div>
<div class="t" style="left:21px;top:27px;">AUDUSD-,H4  0.68077 0.68176 0.68077 0.68116</div>
<div class="t" style="left:9px;top:591px;">MACD(12,26,9) -0.002189 -0.002198</div>
<div class="t" style="left:9px;top:711px;">RSI(14) 37.9506</div>
</body></html>
